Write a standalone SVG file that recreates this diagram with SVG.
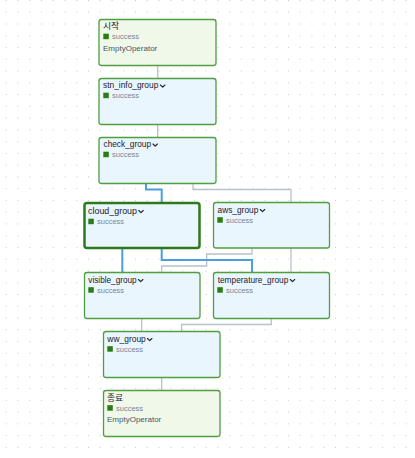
<svg xmlns="http://www.w3.org/2000/svg" width="415" height="458" viewBox="0 0 415 458">
<defs>
<pattern id="grid" x="5.7" y="0" width="11.76" height="11.76" patternUnits="userSpaceOnUse">
<rect x="0" y="0" width="1" height="1" fill="#c8c8c8"/>
</pattern>
<style>
.node rect.box{stroke:#4f9e3f;stroke-width:1.3}
.op{fill:#eff8e9}
.grp{fill:#eaf6fd}
.sel{stroke:#2c7a1c !important;stroke-width:2.5 !important}
.title{font-family:"Liberation Sans","Noto Sans CJK KR",Arial,sans-serif;font-size:8.8px;fill:#1a202c}
.state{font-family:"Liberation Sans",Arial,sans-serif;font-size:7.5px;fill:#7a8599}
.opname{font-family:"Liberation Sans",Arial,sans-serif;font-size:8px;fill:#4a5568}
.sq{fill:#2a7d12}
.chev{fill:none;stroke:#1a202c;stroke-width:1.1;stroke-linecap:round;stroke-linejoin:round}
.e{fill:none;stroke:#b9c1ca;stroke-width:1.3}
.eb{fill:none;stroke:#4a9ee2;stroke-width:2}
</style>
</defs>
<rect width="415" height="458" fill="#ffffff"/>
<rect width="415" height="458" fill="url(#grid)"/>
<g id="connectors">
<path class="e" d="M157.7,65 V78"/>
<path class="e" d="M157.7,124 V137"/>
<path class="e" d="M193,183 V189.5 H291 V202"/>
<path class="e" d="M252,248 V254 H206.7 V266 H161.7 V272"/>
<path class="e" d="M291,248 V272"/>
<path class="e" d="M141.7,318 V331"/>
<path class="e" d="M271.3,318 V324.5 H181.5 V331"/>
<path class="e" d="M161.7,377 V390"/>
<path class="eb" d="M146,183 V189.5 H161.7 V202"/>
<path class="eb" d="M122.3,248 V272"/>
<path class="eb" d="M161.7,248 V260 H252 V272"/>
</g>
<g id="node-start" class="node">
<rect class="box op" x="99" y="19.5" width="117" height="46" rx="2.5"/>
<text class="title" x="103" y="29">시작</text>
<rect class="sq" x="103.3" y="33.7" width="5.5" height="5.5"/>
<text class="state" x="112" y="39">success</text>
<text class="opname" x="103" y="51">EmptyOperator</text>
</g>
<g id="node-stn_info_group" class="node">
<rect class="box grp" x="99" y="78.5" width="117" height="46" rx="2.5"/>
<text class="title" x="103" y="88" textLength="55.3" lengthAdjust="spacingAndGlyphs">stn_info_group</text>
<path class="chev" d="M160.5,85 l2.2,2.2 l2.2,-2.2"/>
<rect class="sq" x="103.3" y="92.7" width="5.5" height="5.5"/>
<text class="state" x="112" y="98">success</text>
</g>
<g id="node-check_group" class="node">
<rect class="box grp" x="99" y="137.5" width="117" height="46" rx="2.5"/>
<text class="title" x="103.5" y="147" textLength="47.5" lengthAdjust="spacingAndGlyphs">check_group</text>
<path class="chev" d="M153,144 l2.2,2.2 l2.2,-2.2"/>
<rect class="sq" x="103.3" y="151.7" width="5.5" height="5.5"/>
<text class="state" x="112" y="157">success</text>
</g>
<g id="node-cloud_group" class="node">
<rect class="box grp sel" x="84.5" y="203" width="115" height="45" rx="2.5"/>
<text class="title" x="88" y="213.5" textLength="49" lengthAdjust="spacingAndGlyphs">cloud_group</text>
<path class="chev" d="M138.8,210.5 l2.2,2.2 l2.2,-2.2"/>
<rect class="sq" x="88.3" y="218.7" width="5.5" height="5.5"/>
<text class="state" x="97" y="224">success</text>
</g>
<g id="node-aws_group" class="node">
<rect class="box grp" x="213.5" y="202.5" width="116" height="45.5" rx="2.5"/>
<text class="title" x="217.5" y="212.5" textLength="40.8" lengthAdjust="spacingAndGlyphs">aws_group</text>
<path class="chev" d="M260.3,209.5 l2.2,2.2 l2.2,-2.2"/>
<rect class="sq" x="217.3" y="217.2" width="5.5" height="5.5"/>
<text class="state" x="226" y="222.5">success</text>
</g>
<g id="node-visible_group" class="node">
<rect class="box grp" x="84.5" y="272.5" width="115.5" height="46" rx="2.5"/>
<text class="title" x="88.3" y="282.5" textLength="48.4" lengthAdjust="spacingAndGlyphs">visible_group</text>
<path class="chev" d="M138.5,279.5 l2.2,2.2 l2.2,-2.2"/>
<rect class="sq" x="88.3" y="287.2" width="5.5" height="5.5"/>
<text class="state" x="97" y="292.5">success</text>
</g>
<g id="node-temperature_group" class="node">
<rect class="box grp" x="213.5" y="272.5" width="116" height="46" rx="2.5"/>
<text class="title" x="217.7" y="282.5" textLength="70.6" lengthAdjust="spacingAndGlyphs">temperature_group</text>
<path class="chev" d="M290.3,279.5 l2.2,2.2 l2.2,-2.2"/>
<rect class="sq" x="217.3" y="287.2" width="5.5" height="5.5"/>
<text class="state" x="226" y="292.5">success</text>
</g>
<g id="node-ww_group" class="node">
<rect class="box grp" x="103.5" y="331.5" width="116.5" height="46" rx="2.5"/>
<text class="title" x="107.3" y="341.5" textLength="38.5" lengthAdjust="spacingAndGlyphs">ww_group</text>
<path class="chev" d="M147.5,338.5 l2.2,2.2 l2.2,-2.2"/>
<rect class="sq" x="107.3" y="346.2" width="5.5" height="5.5"/>
<text class="state" x="116" y="351.5">success</text>
</g>
<g id="node-end" class="node">
<rect class="box op" x="103.5" y="390.5" width="116.5" height="46" rx="2.5"/>
<text class="title" x="107" y="400.5">종료</text>
<rect class="sq" x="107.3" y="405.2" width="5.5" height="5.5"/>
<text class="state" x="116" y="410.5">success</text>
<text class="opname" x="107" y="422">EmptyOperator</text>
</g>
</svg>
